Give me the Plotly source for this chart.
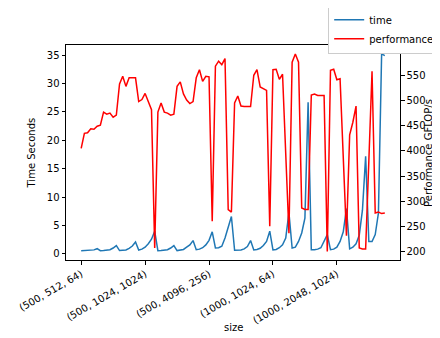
import itertools
import plotly.graph_objects as go

# sizes (N, M, K) used as the x index
n_vals = [500, 1000]
m_vals = [512, 1024, 2048, 4096]
k_vals = [64, 96, 128, 192, 256, 384, 512, 768, 1024, 1536, 2048, 3072]
sizes = [f"({n}, {m}, {k})" for n, m, k in itertools.product(n_vals, m_vals, k_vals)]

x_ticks = ["(500, 512, 64)", "(500, 1024, 1024)", "(500, 4096, 256)",
           "(1000, 1024, 64)", "(1000, 2048, 1024)"]

time_s = [0.58, 0.6, 0.62, 0.66, 0.72, 0.93, 0.58, 0.6, 0.62, 0.75, 1.05, 1.46,
          0.6, 0.6, 0.7, 1.0, 1.4, 2.1, 0.7, 0.85, 1.2, 1.8, 2.6, 4.0,
          0.58, 0.6, 0.62, 0.75, 1.05, 1.46, 0.6, 0.66, 0.8, 1.2, 1.6, 2.35,
          0.75, 0.85, 1.1, 1.6, 2.4, 3.9, 1.05, 1.1, 1.35, 2.8, 4.6, 6.6,
          0.65, 0.65, 0.7, 0.9, 1.3, 2.35, 0.7, 0.8, 1.0, 1.5, 2.2, 4.0,
          0.7, 0.8, 1.1, 1.6, 2.8, 7.3, 1.05, 1.2, 2.2, 3.7, 6.3, 26.7,
          0.76, 0.75, 0.85, 1.1, 2.2, 3.4, 0.76, 0.85, 1.2, 2.2, 3.9, 8.0,
          0.9, 1.2, 1.8, 3.3, 7.7, 17.2, 2.2, 2.2, 3.4, 7.2, 35.2, 34.9]

perf = [405, 435, 436, 444, 443, 449, 451, 477, 473, 475, 467, 471,
        533, 548, 528, 545, 545, 545, 498, 502, 514, 498, 482, 208,
        477, 495, 477, 475, 471, 473, 528, 537, 513, 501, 494, 498,
        545, 561, 538, 548, 547, 261, 568, 578, 571, 583, 284, 279,
        495, 509, 489, 488, 488, 488, 550, 561, 527, 523, 520, 251,
        561, 562, 542, 552, 400, 237, 576, 592, 576, 287, 284, 284,
        511, 513, 510, 510, 510, 201, 560, 562, 541, 543, 380, 232,
        432, 457, 489, 208, 206, 206, 380, 558, 277, 279, 276, 277]

fig = go.Figure()
fig.add_trace(go.Scatter(x=sizes, y=time_s, name="time", mode="lines",
                         line=dict(color="#1f77b4", width=1.5)))
fig.add_trace(go.Scatter(x=sizes, y=perf, name="performance", mode="lines",
                         line=dict(color="red", width=1.5), yaxis="y2"))

axis_common = dict(showline=True, linecolor="black", linewidth=1, ticks="outside",
                   ticklen=3.5, tickcolor="black", showgrid=False, zeroline=False,
                   tickfont=dict(size=10, color="black"))

fig.update_layout(
    width=440, height=338,
    margin=dict(l=58, r=48, t=37, b=86, autoexpand=False),
    paper_bgcolor="white", plot_bgcolor="white",
    font=dict(family="DejaVu Sans", size=10, color="black"),
    xaxis=dict(type="category", categoryorder="array", categoryarray=sizes,
               range=[-4.75, 99.75], tickvals=x_ticks, ticktext=x_ticks,
               tickangle=-30, mirror=True, automargin=False, **axis_common),
    yaxis=dict(range=[-1.06, 36.76], dtick=5, automargin=False, **axis_common),
    yaxis2=dict(range=[184, 610], dtick=50, overlaying="y", side="right",
                automargin=False, **axis_common),
    legend=dict(x=0.785, y=1.19, xanchor="left", yanchor="top",
                bordercolor="#cccccc", borderwidth=1, bgcolor="white",
                font=dict(size=10), tracegroupgap=0, itemwidth=30),
    showlegend=True,
)

# axis titles placed like the matplotlib original
fig.add_annotation(text="size", xref="paper", yref="paper", x=0.5, y=-0.316,
                   showarrow=False, xanchor="center", yanchor="middle")
fig.add_annotation(text="Time Seconds", xref="paper", yref="paper", x=-0.102, y=0.5,
                   showarrow=False, textangle=-90, xanchor="center", yanchor="middle")
fig.add_annotation(text="Performance GFLOP/s", xref="paper", yref="paper", x=1.085, y=0.5,
                   showarrow=False, textangle=-90, xanchor="center", yanchor="middle")

fig.write_html("out.html")
